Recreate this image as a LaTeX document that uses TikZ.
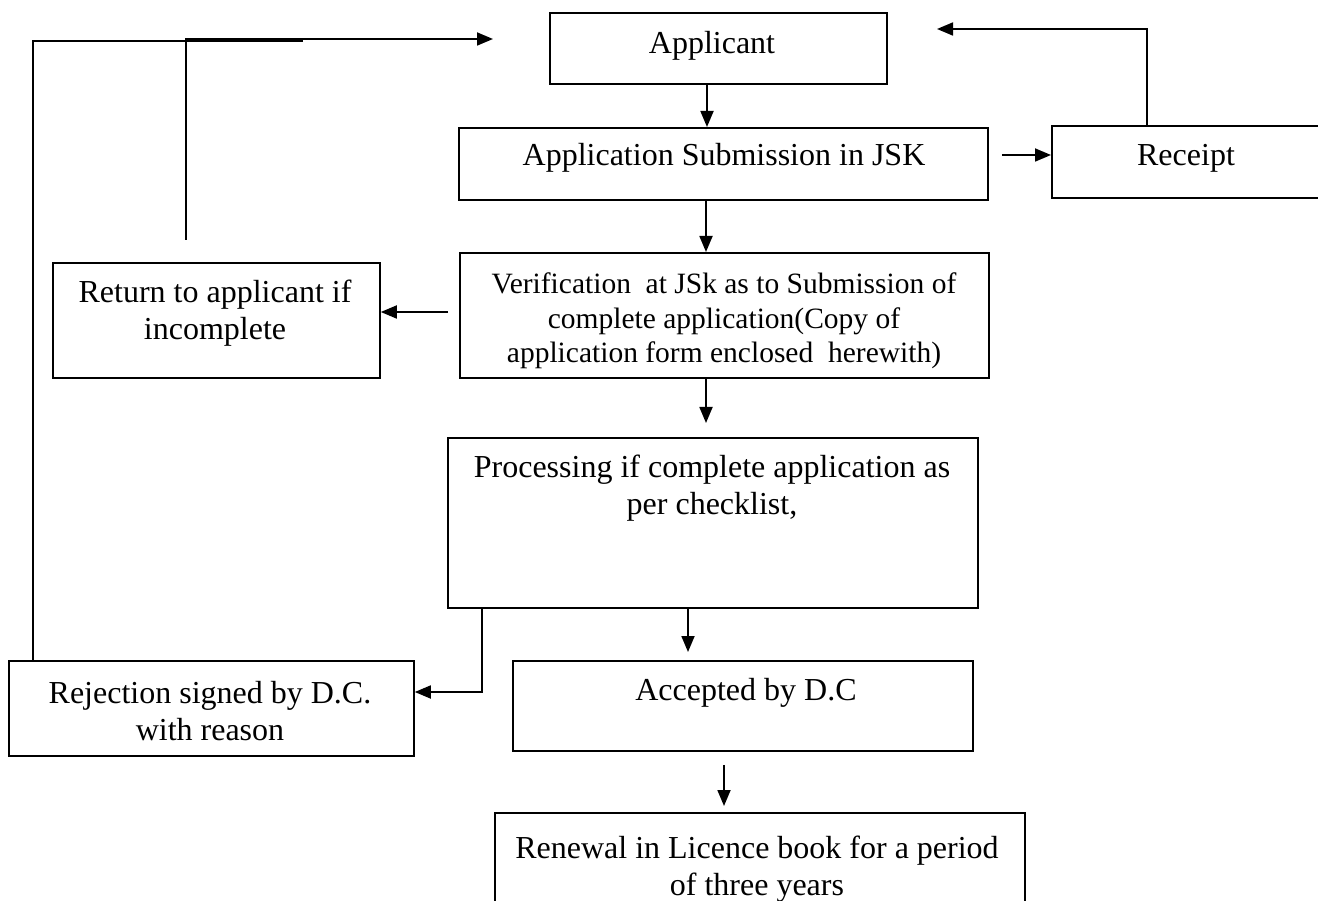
\documentclass[tikz,border=0pt]{standalone}
\usepackage{fontspec}
\setmainfont{Liberation Serif}
\usetikzlibrary{arrows.meta,calc}
\begin{document}
\begin{tikzpicture}[x=1pt,y=-1pt,
  box/.style={draw, line width=1.8pt, inner sep=0pt, anchor=north west},
  txt/.style={font=\fontsize{32}{37.5}\selectfont, align=center, inner sep=0pt},
  stxt/.style={font=\fontsize{29.5}{34.5}\selectfont, align=center, inner sep=0pt},
  ln/.style={line width=1.8pt},
  arr/.style={line width=1.8pt, -{Triangle[length=16pt,width=13pt]}}]
\useasboundingbox (0,0) rectangle (1318,901);
\clip (0,0) rectangle (1318,901);
% boxes
\node[box, minimum width=337pt, minimum height=71pt] (app) at (549,12) {};
\node[box, minimum width=529pt, minimum height=72pt] (jsk) at (458,127) {};
\node[box, minimum width=300pt, minimum height=72pt] (rcpt) at (1051,125) {};
\node[box, minimum width=529pt, minimum height=125pt] (ver) at (459,252) {};
\node[box, minimum width=327pt, minimum height=115pt] (ret) at (52,262) {};
\node[box, minimum width=530pt, minimum height=170pt] (proc) at (447,437) {};
\node[box, minimum width=405pt, minimum height=95pt] (rej) at (8,660) {};
\node[box, minimum width=460pt, minimum height=90pt] (acc) at (512,660) {};
\node[box, minimum width=530pt, minimum height=110pt] (ren) at (494,812) {};
% texts
\node[txt] (tapp) at (712,46) {Applicant};
\node[txt] (tjsk) at (724,158) {Application Submission in JSK};
\node[txt] (trcpt) at (1186,158) {Receipt};
\node[stxt] (tver) at (724,321) {Verification\ \ at JSk as to Submission of\\complete application(Copy of\\application form enclosed\ \ herewith)};
\node[txt] (tret) at (215,313) {Return to applicant if\\incomplete};
\node[txt] (tproc) at (712,488) {Processing if complete application as\\per checklist,};
\node[txt] (trej) at (210,711) {Rejection signed by D.C.\\with reason};
\node[txt] (tacc) at (746,693) {Accepted by D.C};
\node[txt] (tren) at (757,869) {Renewal in Licence book for a period\\of three years};
% guide coordinates
\coordinate (x1) at (707,0);
\coordinate (x2) at (706,0);
\coordinate (x3) at (688,0);
\coordinate (x4) at (724,0);
\coordinate (x5) at (482,0);
\coordinate (x6) at (1147,0);
\coordinate (x7) at (33,0);
\coordinate (x8) at (186,0);
\coordinate (y1) at (0,155);
\coordinate (y2) at (0,312);
\coordinate (y3) at (0,692);
\coordinate (tipR) at (937,29);
\coordinate (tipL) at (493,39);
\coordinate (endL) at (303,41);
% connectors
\draw[arr] (app.south -| x1) -- (jsk.north -| x1);
\draw[arr] (jsk.south -| x2) -- (ver.north -| x2);
\draw[arr, shorten <=13pt] (jsk.east |- y1) -- (rcpt.west |- y1);
\draw[arr, shorten <=11pt] (ver.west |- y2) -- (ret.east |- y2);
\draw[arr, shorten >=14pt] (ver.south -| x2) -- (proc.north -| x2);
\draw[arr, shorten >=8pt] (proc.south -| x3) -- (acc.north -| x3);
\draw[arr] (proc.south -| x5) -- (x5 |- y3) -- (rej.east |- y3);
\draw[arr, shorten <=13pt, shorten >=6pt] (acc.south -| x4) -- (ren.north -| x4);
\draw[arr] (rcpt.north -| x6) |- (tipR);
\draw[ln] (rej.north -| x7) |- (endL);
\draw[arr, shorten <=22pt] (ret.north -| x8) |- (tipL);
\end{tikzpicture}
\end{document}
